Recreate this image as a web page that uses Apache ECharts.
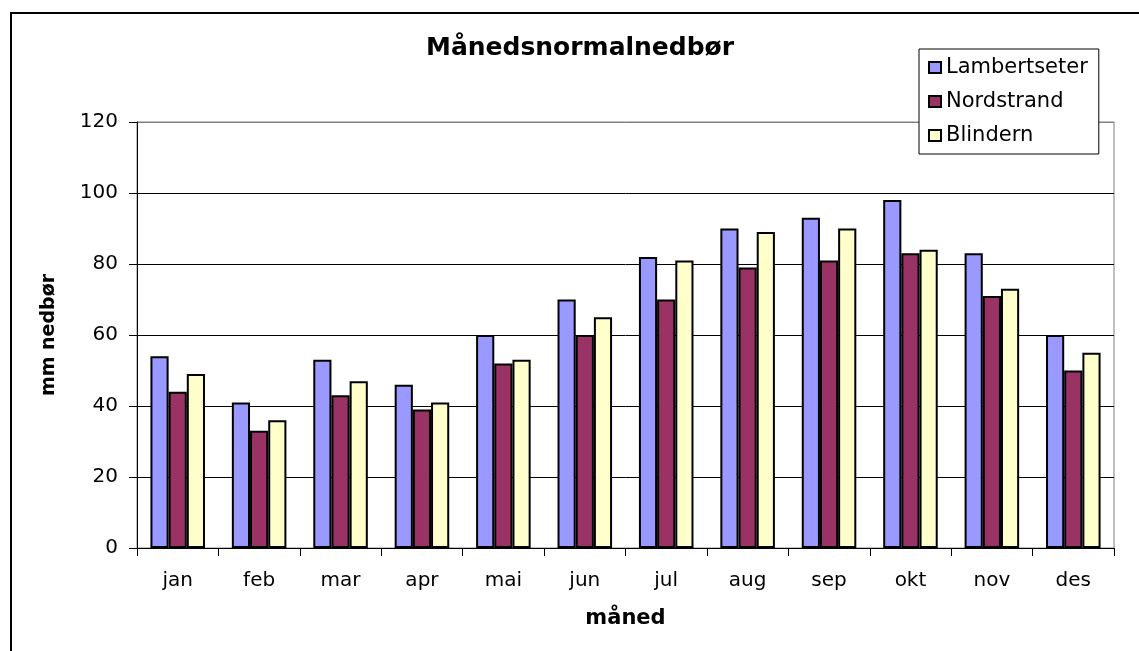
<!DOCTYPE html>
<html>
<head>
	<meta charset="UTF-8">
	<title>Månedsnormalnedbør</title>
	<script src="https://cdn.jsdelivr.net/npm/echarts@6/dist/echarts.min.js"></script>
	<style type="text/css">
		html, body { margin: 0; padding: 0; background: #fff; }
		#chart { width: 1139px; height: 651px; }
	</style>
</head>
<body>
	<div id="chart"></div>
	<script type="text/javascript">
		// data
		var months = ['jan', 'feb', 'mar', 'apr', 'mai', 'jun', 'jul', 'aug', 'sep', 'okt', 'nov', 'des'];
		var lambertseter = [54, 41, 53, 46, 60, 70, 82, 90, 93, 98, 83, 60];
		var nordstrand = [44, 33, 43, 39, 52, 60, 70, 79, 81, 83, 71, 50];
		var blindern = [49, 36, 47, 41, 53, 65, 81, 89, 90, 84, 73, 55];

		var font = 'DejaVu Sans';
		var myChart = echarts.init(document.getElementById('chart'));

		function barSeries(name, data, color) {
			return {
				name: name,
				type: 'bar',
				data: data,
				barGap: '0%',
				barCategoryGap: '33%',
				itemStyle: { color: color, borderColor: '#000', borderWidth: 2 }
			};
		}

		var option = {
			backgroundColor: '#fff',
			animation: false,
			textStyle: { fontFamily: font, color: '#000' },
			title: {
				text: 'Månedsnormalnedbør',
				left: 421,
				top: 31,
				textStyle: { fontFamily: font, fontSize: 25, fontWeight: 'bold', color: '#000' }
			},
			legend: {
				orient: 'vertical',
				left: 919,
				top: 49,
				padding: [8, 11, 8, 9],
				itemGap: 13,
				itemWidth: 12,
				itemHeight: 11,
				icon: 'rect',
				backgroundColor: '#fff',
				borderColor: '#000',
				borderWidth: 1,
				textStyle: { fontFamily: font, fontSize: 21, color: '#000' }
			},
			grid: {
				left: 137,
				right: 25,
				top: 122,
				bottom: 103,
				show: true,
				borderColor: '#808080',
				borderWidth: 1
			},
			xAxis: {
				type: 'category',
				data: months,
				name: 'måned',
				nameLocation: 'middle',
				nameGap: 60,
				nameTextStyle: { fontFamily: font, fontSize: 21, fontWeight: 'bold', color: '#000' },
				axisLine: { lineStyle: { color: '#000', width: 1 } },
				axisTick: { show: true, length: 8, lineStyle: { color: '#000' } },
				axisLabel: { fontFamily: font, fontSize: 20, color: '#000', margin: 23 }
			},
			yAxis: {
				type: 'value',
				min: 0,
				max: 120,
				interval: 20,
				name: 'mm nedbør',
				nameLocation: 'middle',
				nameRotate: 90,
				nameGap: 78,
				nameTextStyle: { fontFamily: font, fontSize: 19, fontWeight: 'bold', color: '#000' },
				axisLine: { show: true, lineStyle: { color: '#000', width: 1 } },
				axisTick: { show: true, length: 8, lineStyle: { color: '#000' } },
				axisLabel: { fontFamily: font, fontSize: 20, color: '#000', margin: 19 },
				splitLine: {
					show: true,
					lineStyle: { color: ['#000', '#000', '#000', '#000', '#000', '#000', '#808080'], width: 1 }
				}
			},
			graphic: [{
				type: 'rect',
				shape: { x: 11, y: 13, width: 1200, height: 700 },
				style: { fill: 'none', stroke: '#000', lineWidth: 2 },
				silent: true
			}],
			series: [
				barSeries('Lambertseter', lambertseter, '#9999FF'),
				barSeries('Nordstrand', nordstrand, '#993366'),
				barSeries('Blindern', blindern, '#FFFFCC')
			]
		};

		myChart.setOption(option);
	</script>
</body>
</html>
